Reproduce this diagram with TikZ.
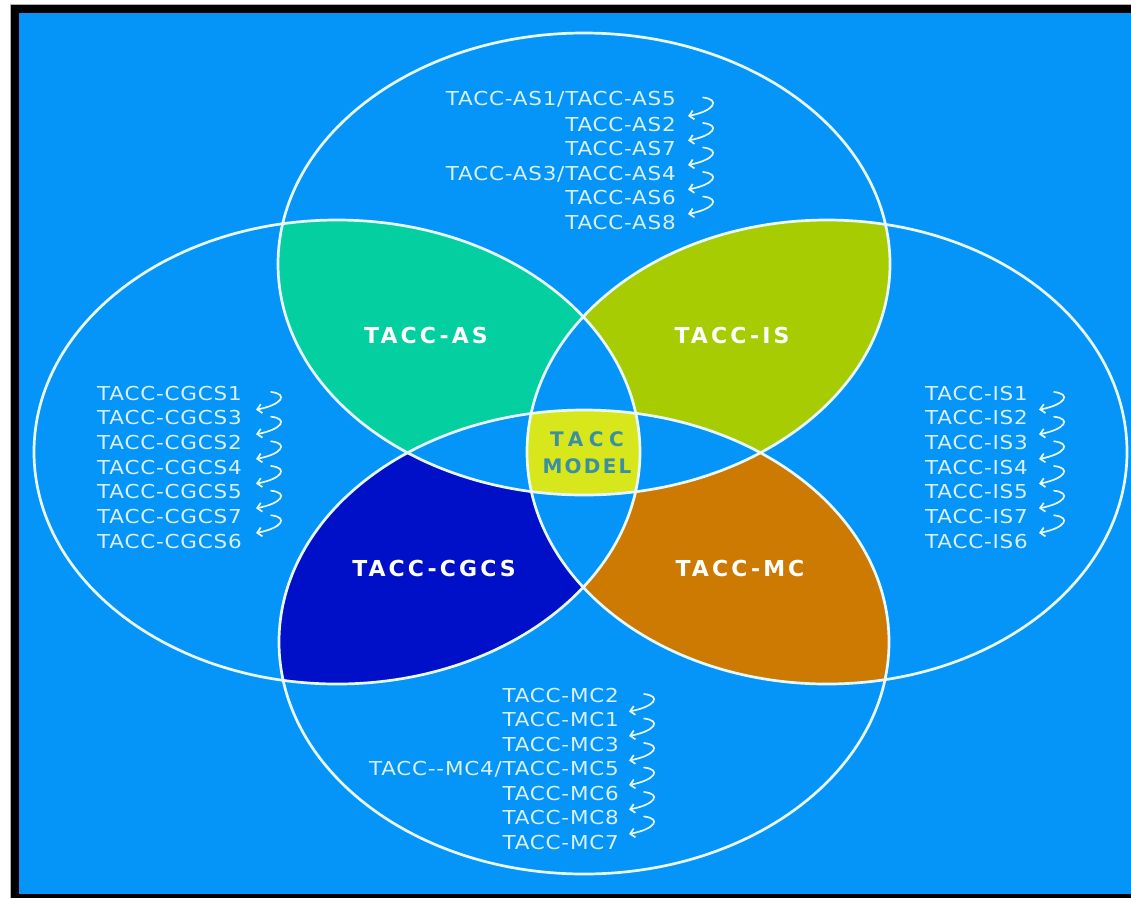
\documentclass[tikz,border=0pt]{standalone}
\usepackage{fontspec}
\setmainfont{DejaVu Sans}
\newfontfamily\listfont[FakeStretch=1.12,LetterSpace=4]{DejaVu Sans}
\newfontfamily\labelfont[LetterSpace=14]{DejaVu Sans}
\newfontfamily\coreTop[LetterSpace=28]{DejaVu Sans}
\newfontfamily\coreBottom[LetterSpace=11]{DejaVu Sans}
\usetikzlibrary{arrows.meta,calc}

\definecolor{bgblue}{HTML}{0594F7}
\definecolor{asgreen}{HTML}{03CFA0}
\definecolor{isgreen}{HTML}{A8CC02}
\definecolor{cgblue}{HTML}{0010C8}
\definecolor{mcorange}{HTML}{CC7A02}
\definecolor{coreyellow}{HTML}{D8E61C}
\definecolor{coretext}{HTML}{3A8FA3}
\definecolor{listtext}{HTML}{D8F0FB}
\definecolor{ringwhite}{HTML}{E8F8FF}

% the four sets
\newcommand\setTop{(584,264) ellipse [x radius=306, y radius=231]}
\newcommand\setBot{(584,642) ellipse [x radius=305, y radius=232]}
\newcommand\setLeft{(337,452) ellipse [x radius=303, y radius=232]}
\newcommand\setRight{(827,452) ellipse [x radius=300, y radius=232]}

% curled arrow from one list entry to the next, in column #3
\newcommand\curlarrow[3]{%
  \draw[curl] ($(#1.base -| #3)+(16,-8)$)
    .. controls ($(#1.base -| #3)+(34,-6)$) and ($(#2.base -| #3)+(27,-20)$)
    .. ($(#2.base -| #3)+(1,-15)$);}

\begin{document}
\begin{tikzpicture}[x=1pt,y=-1pt,
  listitem/.style={text=listtext, inner sep=0pt, font=\listfont\fontsize{19.2}{20}\selectfont},
  setlabel/.style={text=white, inner sep=0pt, font=\labelfont\bfseries\fontsize{22}{22}\selectfont},
  corelabel/.style={text=coretext, inner sep=0pt, align=center, font=\bfseries\fontsize{20}{27}\selectfont},
  curl/.style={draw=ringwhite, line width=1.7pt, line cap=round, -{Straight Barb[length=4.5pt,width=9pt]}},
  ring/.style={draw=ringwhite, line width=2.7pt}]

\useasboundingbox (0,0) rectangle (1131,898);
% page, frame and background
\fill[white] (0,0) rectangle (1131,898);
\fill[black] (11,4) rectangle (1131,898);
\draw[gray!60, line width=0.8pt] (10.6,898) -- (10.6,4.4) -- (1131,4.4);
\fill[bgblue] (19,12.5) rectangle (1131,894);

% pairwise overlaps
\begin{scope}\clip \setTop;  \fill[asgreen] \setLeft;  \end{scope}
\begin{scope}\clip \setTop;  \fill[isgreen] \setRight; \end{scope}
\begin{scope}\clip \setBot;  \fill[cgblue]  \setLeft;  \end{scope}
\begin{scope}\clip \setBot;  \fill[mcorange] \setRight; \end{scope}
% triple overlaps stay background blue
\begin{scope}\clip \setTop; \clip \setLeft;  \fill[bgblue] \setRight; \end{scope}
\begin{scope}\clip \setTop; \clip \setLeft;  \fill[bgblue] \setBot;   \end{scope}
\begin{scope}\clip \setBot; \clip \setRight; \fill[bgblue] \setTop;   \end{scope}
\begin{scope}\clip \setBot; \clip \setRight; \fill[bgblue] \setLeft;  \end{scope}
% the common core
\begin{scope}\clip \setTop; \clip \setLeft; \clip \setRight; \fill[coreyellow] \setBot; \end{scope}

% outlines
\draw[ring] \setTop;
\draw[ring] \setBot;
\draw[ring] \setLeft;
\draw[ring] \setRight;

% set names
\node[setlabel] (lblAS)   at (426,335) {TACC-AS};
\node[setlabel] (lblIS)   at (732,335) {TACC-IS};
\node[setlabel] (lblCGCS) at (434,568) {TACC-CGCS};
\node[setlabel] (lblMC)   at (740,568) {TACC-MC};
\node[corelabel] (core)   at (587,453) {{\coreTop TACC}\\{\coreBottom MODEL}};

% AS list
\coordinate (colAS) at (687,0);
\node[listitem, anchor=base east] (as1) at (676,105.5) {TACC-AS1/TACC-AS5};
\node[listitem, anchor=base east] (as2) at (676,131)   {TACC-AS2};
\node[listitem, anchor=base east] (as3) at (676,155.5) {TACC-AS7};
\node[listitem, anchor=base east] (as4) at (676,180)   {TACC-AS3/TACC-AS4};
\node[listitem, anchor=base east] (as5) at (676,204.5) {TACC-AS6};
\node[listitem, anchor=base east] (as6) at (676,229)   {TACC-AS8};
\curlarrow{as1}{as2}{colAS}
\curlarrow{as2}{as3}{colAS}
\curlarrow{as3}{as4}{colAS}
\curlarrow{as4}{as5}{colAS}
\curlarrow{as5}{as6}{colAS}

% CGCS list
\coordinate (colCG) at (255,0);
\node[listitem, anchor=base west] (cg1) at (97,400)   {TACC-CGCS1};
\node[listitem, anchor=base west] (cg2) at (97,424.7) {TACC-CGCS3};
\node[listitem, anchor=base west] (cg3) at (97,449.3) {TACC-CGCS2};
\node[listitem, anchor=base west] (cg4) at (97,474)   {TACC-CGCS4};
\node[listitem, anchor=base west] (cg5) at (97,498.7) {TACC-CGCS5};
\node[listitem, anchor=base west] (cg6) at (97,523.3) {TACC-CGCS7};
\node[listitem, anchor=base west] (cg7) at (97,548)   {TACC-CGCS6};
\curlarrow{cg1}{cg2}{colCG}
\curlarrow{cg2}{cg3}{colCG}
\curlarrow{cg3}{cg4}{colCG}
\curlarrow{cg4}{cg5}{colCG}
\curlarrow{cg5}{cg6}{colCG}
\curlarrow{cg6}{cg7}{colCG}

% IS list
\coordinate (colIS) at (1038,0);
\node[listitem, anchor=base west] (is1) at (925,400)   {TACC-IS1};
\node[listitem, anchor=base west] (is2) at (925,424.7) {TACC-IS2};
\node[listitem, anchor=base west] (is3) at (925,449.3) {TACC-IS3};
\node[listitem, anchor=base west] (is4) at (925,474)   {TACC-IS4};
\node[listitem, anchor=base west] (is5) at (925,498.7) {TACC-IS5};
\node[listitem, anchor=base west] (is6) at (925,523.3) {TACC-IS7};
\node[listitem, anchor=base west] (is7) at (925,548)   {TACC-IS6};
\curlarrow{is1}{is2}{colIS}
\curlarrow{is2}{is3}{colIS}
\curlarrow{is3}{is4}{colIS}
\curlarrow{is4}{is5}{colIS}
\curlarrow{is5}{is6}{colIS}
\curlarrow{is6}{is7}{colIS}

% MC list
\coordinate (colMC) at (628,0);
\node[listitem, anchor=base east] (mc1) at (619,702)   {TACC-MC2};
\node[listitem, anchor=base east] (mc2) at (619,726.5) {TACC-MC1};
\node[listitem, anchor=base east] (mc3) at (619,751)   {TACC-MC3};
\node[listitem, anchor=base east] (mc4) at (619,775.5) {TACC-{}-MC4/TACC-MC5};
\node[listitem, anchor=base east] (mc5) at (619,800)   {TACC-MC6};
\node[listitem, anchor=base east] (mc6) at (619,824.5) {TACC-MC8};
\node[listitem, anchor=base east] (mc7) at (619,849)   {TACC-MC7};
\curlarrow{mc1}{mc2}{colMC}
\curlarrow{mc2}{mc3}{colMC}
\curlarrow{mc3}{mc4}{colMC}
\curlarrow{mc4}{mc5}{colMC}
\curlarrow{mc5}{mc6}{colMC}
\curlarrow{mc6}{mc7}{colMC}
\end{tikzpicture}
\end{document}
